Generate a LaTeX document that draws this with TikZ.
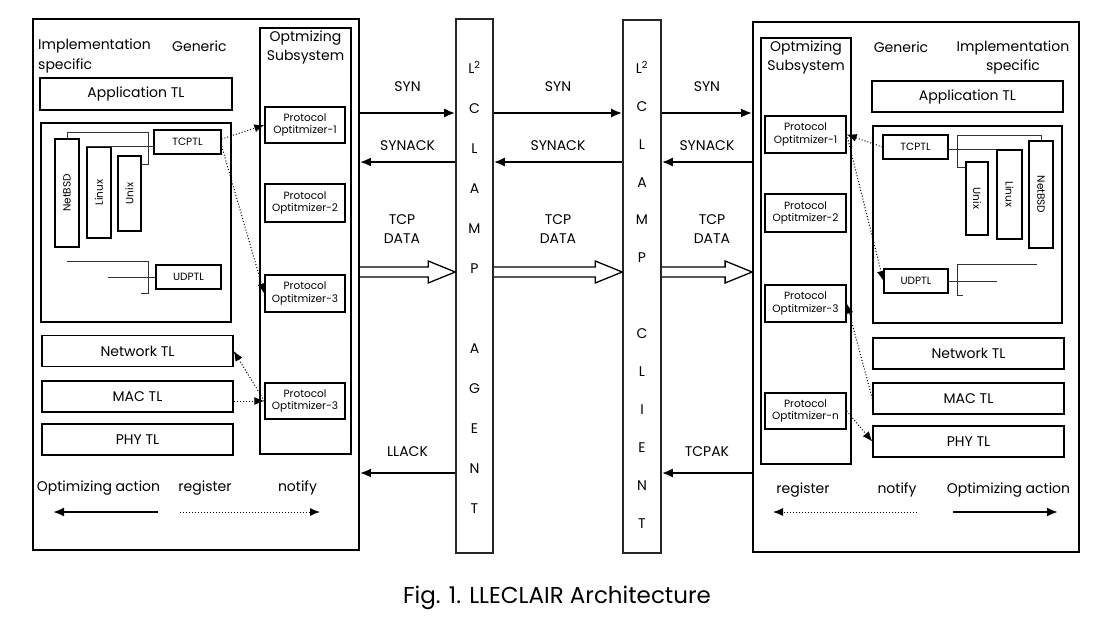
\documentclass[tikz,border=0pt]{standalone}
\usepackage{fontspec}
\setmainfont{Poppins}
\usetikzlibrary{arrows,arrows.meta,calc}
\tikzset{>=latex}
\tikzset{
  box/.style={draw, line width=1.4pt, inner sep=0pt, align=center},
  layer/.style={box, minimum width=191pt, minimum height=31pt, font=\fontsize{14}{17}\selectfont},
  popt/.style={box, minimum width=80pt, minimum height=37pt, font=\fontsize{10.5}{12.5}\selectfont},
  os/.style={box, line width=1.2pt, minimum height=24pt, font=\fontsize{10.5}{12}\selectfont},
  bar/.style={box, line width=1.6pt, draw=black!85},
  bartext/.style={inner sep=0pt, align=center, font=\fontsize{14}{#1}\selectfont},
  tree/.style={line width=0.9pt, draw=black!80},
  reg/.style={-{Latex[length=10pt,width=8pt]}, dotted, line width=1pt},
  msg/.style={-{Latex[length=11pt,width=9pt]}, line width=2pt},
  lbl/.style={inner sep=0pt, align=center, font=\fontsize{14}{19}\selectfont},
}
\newcommand\fatarrow[2]{%
  \draw[line width=1.3pt, line join=miter] ($(#1)+(0,-5)$) -- ($(#2)+(-27,-5)$) -- ($(#2)+(-27,-11)$)
    -- (#2) -- ($(#2)+(-27,11)$) -- ($(#2)+(-27,5)$) -- ($(#1)+(0,5)$);}

\begin{document}
\begin{tikzpicture}[x=1pt,y=-1pt]
  \useasboundingbox (0,0) rectangle (1108,632);

  % agent side
  \node[box, line width=1.8pt, minimum width=326pt, minimum height=531pt] (lsys) at (196,284.5) {};
  \node[box, minimum width=91pt, minimum height=426pt] (lopt) at (305.5,241) {};
  \node[lbl] (lopttxt) at (305.5,47) {Optmizing\\Subsystem};
  \node[lbl, anchor=west] (limpl) at (38,46) {Implementation};
  \node[lbl, anchor=west] (lgen) at (172,46) {Generic};
  \node[lbl, anchor=west] (lspec) at (38,66) {specific};
  \node[layer, minimum width=192pt, minimum height=32pt] (lapp) at (136,94) {Application TL};
  \node[box, minimum width=190pt, minimum height=199pt] (ltl) at (136,222.5) {};
  \node[os, minimum width=67pt] (ltcp) at (187.5,142) {TCPTL};
  \node[os, rotate=90, minimum width=108pt] (lbsd) at (67,193) {NetBSD};
  \node[os, rotate=90, minimum width=91pt] (llinux) at (99,192.5) {Linux};
  \node[os, rotate=90, minimum width=75pt, minimum height=23pt] (lunix) at (129.5,193.5) {Unix};
  \node[os, minimum width=65pt] (ludp) at (188.5,277) {UDPTL};
  \draw[tree] (lbsd.east) -- (lbsd.east |- 0,132) -| (148,164) -- (lunix.south |- 0,164);
  \draw[tree] (llinux.north east) -- (ltcp.west |- llinux.north east);
  \draw[tree] (67,261) -| (148,293) -- (141,293);
  \draw[tree] (108,277) -- (ludp.west);
  \node[layer] (lnet) at (137.5,351) {Network TL};
  \node[layer] (lmac) at (137.5,396.5) {MAC TL};
  \node[layer] (lphy) at (137.5,439.5) {PHY TL};
  \node[popt, minimum height=36pt] (lpo1) at (305,125) {Protocol\\Optitmizer-1};
  \node[popt, minimum height=38pt] (lpo2) at (305,203) {Protocol\\Optitmizer-2};
  \node[popt] (lpo3) at (305,293.5) {Protocol\\Optitmizer-3};
  \node[popt, minimum height=36pt] (lpo3b) at (305,401) {Protocol\\Optitmizer-3};
  \draw[reg] (ltcp.east) ++(0,-3) -- (lpo1.west);
  \draw[reg] (ltcp.east) ++(0,4) -- (lpo3.west);
  \draw[reg] (lpo3b.west) -- (lnet.east);
  \draw[reg] (lmac.east |- lpo3b.west) -- (lpo3b.west);
  \node[lbl] (lacttxt) at (98.5,488) {Optimizing action};
  \node[lbl] (lregtxt) at (205,488) {register};
  \node[lbl] (lnottxt) at (297.5,488) {notify};
  \coordinate (lact0) at (158,512);
  \coordinate (lact1) at (53,512);
  \coordinate (lreg0) at (180,512);
  \coordinate (lreg1) at (320,512);
  \draw[msg] (lact0) -- (lact1);
  \draw[reg] (lreg0) -- (lreg1);

  % the two L2CLAMP bars
  \node[bar, minimum width=37pt, minimum height=534pt] (agent) at (474.5,286) {};
  \node[bartext=40pt] (agenttxt) at (474.5,287) {L\textsuperscript{2}\\C\\L\\A\\M\\P\\[40pt]A\\G\\E\\N\\T};
  \node[bar, minimum width=38pt, minimum height=533pt] (client) at (642,286.5) {};
  \node[bartext=37.9pt] (clienttxt) at (642,294.5) {L\textsuperscript{2}\\C\\L\\A\\M\\P\\[37.9pt]C\\L\\I\\E\\N\\T};

  % client side
  \node[box, line width=1.8pt, minimum width=326pt, minimum height=530pt] (rsys) at (916,287) {};
  \node[box, minimum width=90pt, minimum height=426pt] (ropt) at (806,251) {};
  \node[lbl] (ropttxt) at (806,57) {Optmizing\\Subsystem};
  \node[lbl] (rgen) at (901,47) {Generic};
  \node[lbl] (rimpl) at (1013,57.5) {Implementation\\specific};
  \node[layer] (rapp) at (967.5,96.5) {Application TL};
  \node[box, minimum width=189pt, minimum height=197pt] (rtl) at (967.5,224.5) {};
  \node[os, minimum width=65pt] (rtcp) at (915.5,147) {TCPTL};
  \node[os, rotate=-90, minimum width=73pt, minimum height=22pt] (runix) at (977,198.5) {Unix};
  \node[os, rotate=-90, minimum width=89pt, minimum height=25pt] (rlinux) at (1009.5,194.5) {Linux};
  \node[os, rotate=-90, minimum width=107pt] (rbsd) at (1041,194.5) {NetBSD};
  \node[os, minimum width=64pt] (rudp) at (916,281) {UDPTL};
  \draw[tree] (rbsd.west) -- (rbsd.west |- 0,135) -| (957,167) -- (runix.south |- 0,167);
  \draw[tree] (rtcp.east |- rlinux.south west) -- (rlinux.south west);
  \draw[tree] (1037,264) -| (957,295) -- (963,295);
  \draw[tree] (rudp.east) -- (997,281);
  \node[layer] (rnet) at (968.5,353.5) {Network TL};
  \node[layer] (rmac) at (968.5,398.5) {MAC TL};
  \node[layer] (rphy) at (968.5,441.5) {PHY TL};
  \node[popt, minimum width=81pt] (rpo1) at (805.5,134.5) {Protocol\\Optitmizer-1};
  \node[popt, minimum width=81pt, minimum height=38pt] (rpo2) at (805.5,213) {Protocol\\Optitmizer-2};
  \node[popt, minimum width=81pt] (rpo3) at (805.5,303.5) {Protocol\\Optitmizer-3};
  \node[popt, minimum width=81pt, minimum height=36pt] (rpon) at (805.5,411) {Protocol\\Optitmizer-n};
  \draw[reg] (rtcp.west) -- (rpo1.east);
  \draw[reg] (rpo1.east) -- (rudp.west);
  \draw[reg] (rmac.west) -- (rpo3.east);
  \draw[reg] (rpon.east) -- (rphy.west);
  \node[lbl] (rregtxt) at (803,490) {register};
  \node[lbl] (rnottxt) at (897,490) {notify};
  \node[lbl] (racttxt) at (1008.5,490) {Optimizing action};
  \coordinate (rreg0) at (917,512);
  \coordinate (rreg1) at (773,512);
  \coordinate (ract0) at (953,512);
  \coordinate (ract1) at (1058,512);
  \draw[reg] (rreg0) -- (rreg1);
  \draw[msg] (ract0) -- (ract1);

  % messages between the boxes
  \draw[msg] (lsys.east |- 0,113) -- (agent.west |- 0,113) node[midway, lbl, yshift=26pt] (syn1) {SYN};
  \draw[msg] (agent.east |- 0,113) -- (client.west |- 0,113) node[midway, lbl, yshift=26pt] (syn2) {SYN};
  \draw[msg] (client.east |- 0,113) -- (rsys.west |- 0,113) node[midway, lbl, yshift=26pt] (syn3) {SYN};
  \draw[msg] (agent.west |- 0,162) -- (lsys.east |- 0,162) node[midway, lbl, yshift=16pt] (ack1) {SYNACK};
  \draw[msg] (client.west |- 0,162) -- (agent.east |- 0,162) node[midway, lbl, yshift=16pt] (ack2) {SYNACK};
  \draw[msg] (rsys.west |- 0,162) -- (client.east |- 0,162) node[midway, lbl, yshift=16pt] (ack3) {SYNACK};
  \fatarrow{lsys.east |- 0,272}{agent.west |- 0,272}
  \fatarrow{agent.east |- 0,272}{client.west |- 0,272}
  \fatarrow{client.east |- 0,272}{rsys.west |- 0,272}
  \node[lbl] (data1) at (402,229.5) {TCP\\DATA};
  \node[lbl] (data2) at (558,229.5) {TCP\\DATA};
  \node[lbl] (data3) at (712,229.5) {TCP\\DATA};
  \draw[msg] (agent.west |- 0,473) -- (lsys.east |- 0,473) node[midway, lbl, yshift=21pt] (llack) {LLACK};
  \draw[msg] (rsys.west |- 0,473) -- (client.east |- 0,473) node[midway, lbl, yshift=21pt] (tcpak) {TCPAK};

  \node[font=\fontsize{23}{28}\selectfont, inner sep=0pt] (cap) at (557,598) {Fig. 1. LLECLAIR Architecture};
\end{tikzpicture}
\end{document}
